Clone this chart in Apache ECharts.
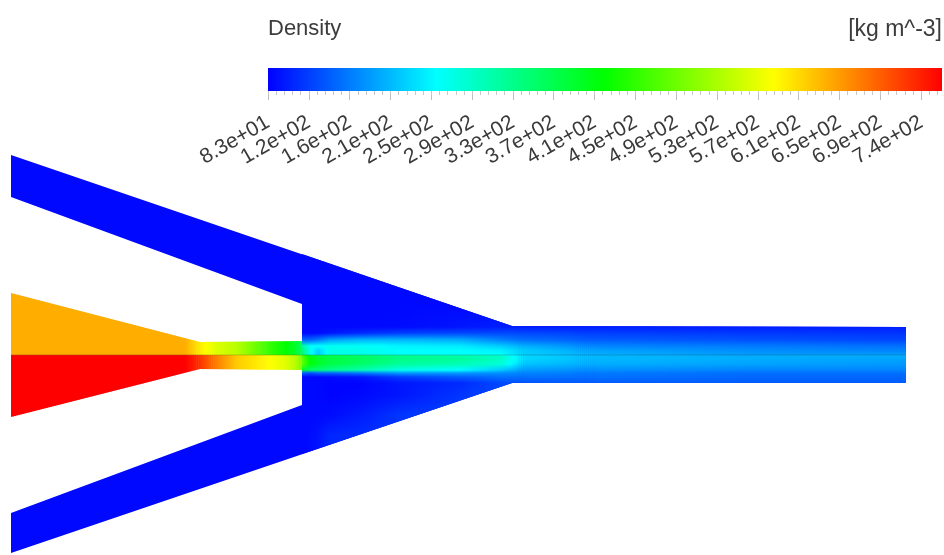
<!DOCTYPE html>
<html><head><meta charset="utf-8">
<style>html,body{margin:0;padding:0;background:#fff}#main{width:944px;height:555px;filter:blur(0.7px)}</style>
<script src="https://cdn.jsdelivr.net/npm/echarts@6/dist/echarts.min.js"></script>
</head><body><div id="main"></div>
<script>
// Colour scale (density, kg m^-3)
const densityMin = 83, densityMax = 760;
const rampDensity = [83, 252, 421, 591, 760];
const rampColors = [[0,0,255],[0,255,255],[0,255,0],[255,255,0],[255,0,0]];
const tickValues = [83,124,165,206,247,288,329,370,411,452,493,534,575,616,657,698,739];
const tickLabels = ['8.3e+01','1.2e+02','1.6e+02','2.1e+02','2.5e+02','2.9e+02','3.3e+02','3.7e+02','4.1e+02','4.5e+02','4.9e+02','5.3e+02','5.7e+02','6.1e+02','6.5e+02','6.9e+02','7.4e+02'];
// Geometry of the flow domain, x along the duct, y from the centre line
const ductOutline = [[0,200],[501,29],[895,28],[895,-28],[501,-28],[0,-198],[0,-158],[291,-50],[291,51],[0,158]];
const nozzleOutline = [[0,62],[189,13],[291,14],[291,-15],[189,-14],[0,-62]];
const mixingOutline = [[291,101],[501,29],[895,28],[895,-28],[501,-28],[291,-99]];
const centreLine = [[0,0],[895,0]];
const inletDensity = 88;
// Nozzle field
const nozzleX = [0,174,189,204,226,259,274,284,291];
const nozzleY = [70,0.6,-0.6,-70];
const nozzleUpper = [645,645,604,570,543,455,421,394,354];
const nozzleLower = [760,760,726,679,625,591,570,543,503];
// Mixing field: density at each station (row order follows mixingY)
const mixingX = [291,299,307,319,349,389,449,489,514,589,739,895];
const mixingY = [50,28,22,15,9,4,0.6,-0.6,-4,-9,-15,-18,-22,-28,-40,-60,-80,-200];
const st0 = [88,88,88,151,327,354,354,470,490,490,400,151,88,88,88,88,88,88];
const st1 = [88,88,88,151,259,266,266,410,420,420,354,137,88,88,88,88,90,90];
const st2 = [88,88,90,164,252,218,218,385,395,395,345,151,88,88,88,88,95,95];
const st3 = [88,88,97,191,259,266,266,374,380,375,327,151,90,85,85,90,108,108];
const st4 = [88,88,110,205,259,266,266,354,361,354,306,164,97,85,88,100,112,112];
const st5 = [88,90,124,205,245,252,252,327,333,320,266,185,124,97,97,118,122,122];
const st6 = [88,97,130,198,239,252,252,306,320,300,252,185,144,110,118,126,126,126];
const st7 = [90,103,130,170,218,245,252,286,293,279,218,178,157,130,130,130,130,130];
const st8 = [97,103,130,157,198,218,218,225,225,212,185,171,157,137,137,137,137,137];
const st9 = [97,103,124,144,171,191,198,205,205,198,178,164,157,144,144,144,144,144];
const st10 = [97,103,120,137,164,178,185,198,198,191,171,157,151,144,144,144,144,144];
const st11 = [97,103,117,130,157,171,185,198,191,185,171,157,151,144,144,144,144,144];
const mixingStations = [st0,st1,st2,st3,st4,st5,st6,st7,st8,st9,st10,st11];
const nozzleStations = nozzleUpper.map((u,i)=>[u,u,nozzleLower[i],nozzleLower[i]]);

function colour(d){
  let k = 0;
  while (k < rampDensity.length-2 && d > rampDensity[k+1]) k++;
  const f = Math.max(0, Math.min(1, (d-rampDensity[k])/(rampDensity[k+1]-rampDensity[k])));
  const a = rampColors[k], b = rampColors[k+1];
  return 'rgb('+a.map((v,i)=>Math.round(v+(b[i]-v)*f)).join(',')+')';
}
const LG = echarts.graphic.LinearGradient;

// Shade a table of stations: between stations the canvas gets thin vertical gradients
function shade(api, outline, xs, ys, table){
  const children = [];
  const yTop = api.coord([0, ys[0]])[1], yBot = api.coord([0, ys[ys.length-1]])[1];
  for (let s = 0; s < xs.length-1; s++){
    const n = Math.max(1, Math.ceil((xs[s+1]-xs[s])/2));
    for (let j = 0; j < n; j++){
      const f = (j+0.5)/n;
      const x0 = xs[s]+(xs[s+1]-xs[s])*j/n, x1 = xs[s]+(xs[s+1]-xs[s])*(j+1)/n;
      const stops = ys.map((y,r)=>({
        offset:(ys[0]-y)/(ys[0]-ys[ys.length-1]),
        color:colour(table[s][r]+(table[s+1][r]-table[s][r])*f)
      }));
      const p0 = api.coord([x0, ys[0]]), p1 = api.coord([x1, ys[0]]);
      children.push({type:'rect',
        shape:{x:p0[0], y:Math.min(yTop,-10), width:p1[0]-p0[0]+0.6, height:1000},
        style:{fill:new LG(0,yTop,0,yBot,stops,true)}});
    }
  }
  return {type:'group', children,
    clipPath:{type:'polygon', shape:{points:outline.map(p=>api.coord(p))}}};
}
function renderField(params, api){
  const i = params.dataIndex;
  if (i === 0) return {type:'polygon', shape:{points:ductOutline.map(p=>api.coord(p))}, style:{fill:colour(inletDensity)}};
  if (i === 1) return shade(api, mixingOutline, mixingX, mixingY, mixingStations);
  return shade(api, nozzleOutline, nozzleX, nozzleY, nozzleStations);
}
function renderBar(params, api){
  const a = api.coord([densityMin,1]), b = api.coord([densityMax,0]);
  const stops = rampDensity.map(d=>({offset:(d-densityMin)/(densityMax-densityMin), color:colour(d)}));
  return {type:'rect', shape:{x:a[0],y:a[1],width:b[0]-a[0],height:b[1]-a[1]},
    style:{fill:new LG(0,0,1,0,stops)}};
}
const minorTicks = [];
tickValues.forEach((v,i)=>{ for (let k=0;k<5;k++){ const m=v+k*8.2; if (m<=densityMax) minorTicks.push(m);} });

// Alternate labels live on two axes so that none is dropped as overlapping its neighbour
const labelAxis = (values) => ({
  gridIndex:1, type:'value', position:'bottom', min:densityMin, max:densityMax,
  axisLine:{show:false}, splitLine:{show:false},
  axisTick:{show:true, length:9, lineStyle:{color:'#bdbdbd',width:1}, customValues:values},
  axisLabel:{show:true, rotate:30, margin:30, fontFamily:'Liberation Sans', fontSize:21, color:'#3a3a3a', hideOverlap:false,
    showMinLabel:true, showMaxLabel:true,
    customValues:values, formatter:(v)=>tickLabels[tickValues.indexOf(v)]}
});

const chart = echarts.init(document.getElementById('main'), null, {renderer:'canvas'});
chart.setOption({
  animation:false,
  backgroundColor:'#fff',
  title:[
    {text:'Density', left:263, top:13, textStyle:{fontFamily:'Liberation Sans', fontSize:22, fontWeight:'normal', color:'#3c3c3c'}},
    {text:'[kg m^-3]', right:-3, top:13, textStyle:{fontFamily:'Liberation Sans', fontSize:23, fontWeight:'normal', color:'#3c3c3c'}}
  ],
  grid:[
    {left:11, top:155, width:895, height:400},
    {left:268, top:68, width:674, height:23}
  ],
  xAxis:[
    {gridIndex:0, type:'value', min:0, max:895, show:false},
    labelAxis(tickValues.filter((v,i)=>i%2===0)),
    labelAxis(tickValues.filter((v,i)=>i%2===1)),
    {gridIndex:1, type:'value', position:'bottom', min:densityMin, max:densityMax,
      axisLine:{show:false}, splitLine:{show:false},
      axisTick:{show:true, length:4, lineStyle:{color:'#c8c8c8',width:1}, customValues:minorTicks},
      axisLabel:{show:false}}
  ],
  yAxis:[
    {gridIndex:0, type:'value', min:-200, max:200, show:false},
    {gridIndex:1, type:'value', min:0, max:1, show:false}
  ],
  series:[
    {type:'custom', xAxisIndex:0, yAxisIndex:0, clip:false, silent:true, renderItem:renderField, data:[[0],[1],[2]]},
    {type:'line', xAxisIndex:0, yAxisIndex:0, data:centreLine, symbol:'none', silent:true,
      lineStyle:{color:'rgba(60,40,20,0.22)', width:1.2}},
    {type:'custom', xAxisIndex:1, yAxisIndex:1, clip:false, silent:true, renderItem:renderBar, data:[[densityMin]]}
  ]
});
</script></body></html>
